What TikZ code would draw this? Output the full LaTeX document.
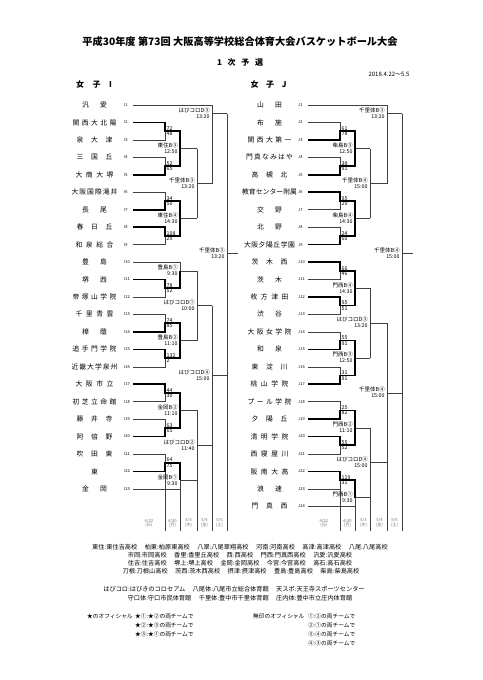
\documentclass[tikz,border=0pt]{standalone}
\usepackage{fontspec}
\setmainfont{Noto Sans CJK JP}
\usetikzlibrary{positioning}
\newcommand{\fsz}[1]{\fontsize{#1}{#1}\selectfont}
\newcommand{\spreadname}[2]{\makebox[#1pt]{\spaceskip=0pt plus 1fill\relax #2}}

\begin{document}
\begin{tikzpicture}[x=1pt,y=-1pt,
  thn/.style={line width=0.5pt,black!75},
  thk/.style={line width=1.6pt,black},
  nm/.style={font=\fsz{6.8},inner sep=0pt},
  sd/.style={font=\fsz{4},inner sep=0pt,anchor=west},
  sc/.style={font=\fsz{5.3},inner sep=0.5pt},
  vu/.style={font=\fsz{5.5},inner sep=0.5pt,anchor=south east},
  vt/.style={font=\fsz{5.3},inner sep=0.8pt,anchor=north east},
  dt/.style={font=\fsz{4.2},text=black!55,align=center,inner sep=0pt},
  ab/.style={font=\fsz{6.2},inner sep=0pt},
  of/.style={font=\fsz{5.7},inner sep=0pt,anchor=west}]
        \fill[white] (0,0) rectangle (482,680);
        \useasboundingbox (0,0) rectangle (482,680);
        %Title
        \node[font=\fsz{10.2}\bfseries] (title) at (240,42) {平成30年度 第73回 大阪高等学校総合体育大会バスケットボール大会};
        \node[font=\fsz{8}\bfseries] (yosen) at (240,62) {\spreadname{46}{1 次 予 選}};
        \node[font=\fsz{6}] (period) at (389,74) {2018.4.22～5.5};
        \node[font=\fsz{8}\bfseries] (headI) at (94,84) {\spreadname{36}{女 子 I}};
        \node[font=\fsz{8}\bfseries] (headJ) at (268.5,84) {\spreadname{36}{女 子 J}};
        \begin{scope}[shift={(0,105)},y=-8.725pt]
        %Teams I
        \foreach \k/\w/\tn in {1/25/汎 愛,2/44/関 西 大 北 陽,3/36/泉 大 津,4/36/三 国 丘,5/38/大 商 大 堺,6/46/大 阪 国 際 滝 井,7/25/長 尾,8/36/春 日 丘,9/38/和 泉 総 合,10/25/豊 島,11/25/堺 西,12/44/帝 塚 山 学 院,13/38/千 里 青 雲,14/25/樟 蔭,15/44/追 手 門 学 院,16/46/近 畿 大 学 泉 州,17/38/大 阪 市 立,18/44/初 芝 立 命 館,19/36/藤 井 寺,20/36/阿 倍 野,21/36/吹 田 東,22/1/東,23/25/金 岡}{
          \node[nm] (i\k) at (94.5,{2*(\k-1)}) {\spreadname{\w}{\tn}};
          \node[sd] (si\k) at (124,{2*(\k-1)}) {I\k};
          \coordinate (a\k) at (133,{2*(\k-1)});
        }
        %Teams J
        \foreach \k/\w/\tn in {1/25/山 田,2/25/布 施,3/44/関 西 大 第 一,4/47/門 真 な み は や,5/36/高 槻 北,6/55/教 育 セ ン タ ー 附 属,7/25/交 野,8/25/北 野,9/51/大 阪 夕 陽 丘 学 園,10/36/茨 木 西,11/25/茨 木,12/38/枚 方 津 田,13/25/渋 谷,14/44/大 阪 女 学 院,15/25/和 泉,16/36/東 淀 川,17/38/桃 山 学 院,18/44/プ ー ル 学 院,19/36/夕 陽 丘,20/38/清 明 学 院,21/38/西 寝 屋 川,22/38/阪 南 大 高,23/25/浪 速,24/36/門 真 西}{
          \node[nm] (j\k) at (269.5,{2*(\k-1)}) {\spreadname{\w}{\tn}};
          \node[sd] (sj\k) at (298,{2*(\k-1)}) {J\k};
          \coordinate (b\k) at (308,{2*(\k-1)});
        }
        %Lines I
        \draw[thn] (a1) -| (212,9);
        \draw[thn] (212,1) -- (227,1);
        \draw[thn] (a3) -| (165,3);
        \draw[thn] (a4) -| (165,7);
        \draw[thn] (180,5) -- (197,5);
        \draw[thn] (a6) -| (165,11);
        \draw[thn] (a9) -| (165,15);
        \draw[thn] (180,13) -- (197,13);
        \draw[thn] (197,5) -- (197,13);
        \draw[thn] (197,9) -- (212,9);
        \draw[thn] (a10) -| (180,19);
        \draw[thn] (a12) -| (165,21);
        \draw[thn] (180,19) -- (197,19);
        \draw[thn] (a13) -| (165,25);
        \draw[thn] (a16) -| (165,29);
        \draw[thn] (180,27) -- (197,27);
        \draw[thn] (197,19) -- (197,27);
        \draw[thn] (197,23) -- (212,23);
        \draw[thn] (a18) -| (165,33);
        \draw[thn] (a19) -| (165,37);
        \draw[thn] (180,35) -- (197,35);
        \draw[thn] (a21) -| (165,41);
        \draw[thn] (a23) -| (180,43);
        \draw[thn] (180,43) -- (197,43);
        \draw[thn] (197,35) -- (197,43);
        \draw[thn] (197,39) -- (212,39);
        \draw[thn] (212,23) -- (212,39);
        \draw[thn] (212,31) -- (227,31);
        \draw[thn] (227,1) -- (227,31);
        \draw[thn] (227,17) -- (238,17);
        \draw[thn] (165,42) -- (165,48.8);
        \draw[thn] (180,44) -- (180,48.8);
        \draw[thn] (197,43) -- (197,48.8);
        \draw[thn] (212,39) -- (212,48.8);
        \draw[thn] (227,31) -- (227,48.8);
        \draw[thk] (a2) -| (165,3) -- (180,3) -- (180,5);
        \draw[thk] (a5) -| (165,7) -- (180,7) -- (180,5);
        \draw[thk] (a7) -| (165,11) -- (180,11) -- (180,13);
        \draw[thk] (a8) -| (165,15) -- (180,15) -- (180,13);
        \draw[thk] (a11) -| (165,21) -- (180,21) -- (180,19);
        \draw[thk] (a14) -| (165,25) -- (180,25) -- (180,27);
        \draw[thk] (a15) -| (165,29) -- (180,29) -- (180,27);
        \draw[thk] (a17) -| (165,33) -- (180,33) -- (180,35);
        \draw[thk] (a20) -| (165,37) -- (180,37) -- (180,35);
        \draw[thk] (a22) -| (165,41) -- (180,41) -- (180,43);
        %Lines J
        \draw[thn] (b1) -| (387,9);
        \draw[thn] (387,1) -- (402,1);
        \draw[thn] (b2) -| (340,3);
        \draw[thn] (b4) -| (340,7);
        \draw[thn] (355,5) -- (370,5);
        \draw[thn] (b7) -| (340,11);
        \draw[thn] (b8) -| (340,15);
        \draw[thn] (355,13) -- (370,13);
        \draw[thn] (370,5) -- (370,13);
        \draw[thn] (370,9) -- (387,9);
        \draw[thn] (b11) -| (340,19);
        \draw[thn] (b13) -| (340,23);
        \draw[thn] (355,21) -- (370,21);
        \draw[thn] (b14) -| (340,27);
        \draw[thn] (b16) -| (340,31);
        \draw[thn] (355,29) -- (370,29);
        \draw[thn] (370,21) -- (370,29);
        \draw[thn] (370,25) -- (387,25);
        \draw[thn] (b18) -| (340,35);
        \draw[thn] (b21) -| (340,39);
        \draw[thn] (355,37) -- (370,37);
        \draw[thn] (b23) -| (340,43);
        \draw[thn] (b24) -| (355,45);
        \draw[thn] (355,45) -- (370,45);
        \draw[thn] (370,37) -- (370,45);
        \draw[thn] (370,41) -- (387,41);
        \draw[thn] (387,25) -- (387,41);
        \draw[thn] (387,33) -- (402,33);
        \draw[thn] (402,1) -- (402,33);
        \draw[thn] (402,17) -- (413,17);
        \draw[thn] (340,44) -- (340,48.8);
        \draw[thn] (355,46) -- (355,48.8);
        \draw[thn] (370,45) -- (370,48.8);
        \draw[thn] (387,41) -- (387,48.8);
        \draw[thn] (402,33) -- (402,48.8);
        \draw[thk] (b3) -| (340,3) -- (355,3) -- (355,5);
        \draw[thk] (b5) -| (340,7) -- (355,7) -- (355,5);
        \draw[thk] (b6) -| (340,11) -- (355,11) -- (355,13);
        \draw[thk] (b9) -| (340,15) -- (355,15) -- (355,13);
        \draw[thk] (b10) -| (340,19) -- (355,19) -- (355,21);
        \draw[thk] (b12) -| (340,23) -- (355,23) -- (355,21);
        \draw[thk] (b15) -| (340,27) -- (355,27) -- (355,29);
        \draw[thk] (b17) -| (340,31) -- (355,31) -- (355,29);
        \draw[thk] (b19) -| (340,35) -- (355,35) -- (355,37);
        \draw[thk] (b20) -| (340,39) -- (355,39) -- (355,37);
        \draw[thk] (b22) -| (340,43) -- (355,43) -- (355,45);
        %Scores
        \foreach \o/\p/\q [count=\n] in {3/72/48,7/52/65,11/34/50,15/108/29,21/78/52,25/74/85,29/132/2,33/44/30,37/63/65,41/64/75}{
          \node[sc,anchor=south west] (pi\n) at (166,\o) {\p};
          \node[sc,anchor=north west] (qi\n) at (166,\o) {\q};
        }
        \foreach \o/\p/\q [count=\n] in {3/61/78,7/38/91,11/95/29,15/24/60,19/66/46,23/95/51,27/55/91,31/31/91,35/25/82,39/55/52,43/119/31}{
          \node[sc,anchor=south west] (pj\n) at (341,\o) {\p};
          \node[sc,anchor=north west] (qj\n) at (341,\o) {\q};
        }
        %Venues
        \foreach \x/\o/\vn/\tm [count=\n] in {212/1/はびコロD③/13:20,180/5/東住B③/12:50,197/9/千里体B③/13:20,180/13/東住B④/14:30,227/17/千里体B③/13:20,180/19/豊島B①/9:30,197/23/はびコロD①/10:00,180/27/豊島B②/11:10,212/31/はびコロD④/15:00,180/35/金岡B②/11:10,197/39/はびコロD②/11:40,180/43/金岡B①/9:30,387/1/千里体B③/13:20,355/5/柴島B③/12:50,370/9/千里体B④/15:00,355/13/柴島B④/14:30,402/17/千里体B④/15:00,355/21/門西B④/14:30,370/25/はびコロD③/13:20,355/29/門西B③/12:50,387/33/千里体B④/15:00,355/37/門西B②/11:10,370/41/はびコロD④/15:00,355/45/門西B①/9:30}{
          \node[vu] (vn\n) at (\x-1.5,\o) {\vn};
          \node[vt] (tm\n) at (\x-1.5,\o) {\tm};
        }
        \end{scope}
        %Dates
        \foreach \x/\mo/\dy/\wk [count=\n] in {149/4/22/日,172.5/4/30/月,188.5/5/3/木,204.5/5/4/金,219.5/5/5/土,324/4/22/日,347.5/4/30/月,363.5/5/3/木,379.5/5/4/金,394.5/5/5/土}{
          \node[dt] (dt\n) at (\x,523) {\mo/\dy\\(\wk)};
        }
        %Abbreviations
        \node[ab] (ab1) at (240,547) {東住:東住吉高校\hspace{1.2em}柏東:柏原東高校\hspace{1.2em}八翠:八尾翠翔高校\hspace{1.2em}河南:河南高校\hspace{1.2em}高津:高津高校\hspace{1.2em}八尾:八尾高校};
        \node[ab] (ab2) at (240,555) {市岡:市岡高校\hspace{1.2em}香里:香里丘高校\hspace{1.2em}西:西高校\hspace{1.2em}門西:門真西高校\hspace{1.2em}汎愛:汎愛高校};
        \node[ab] (ab3) at (240,563) {住吉:住吉高校\hspace{1.2em}堺上:堺上高校\hspace{1.2em}金岡:金岡高校\hspace{1.2em}今宮:今宮高校\hspace{1.2em}高石:高石高校};
        \node[ab] (ab4) at (241,571) {刀根:刀根山高校\hspace{1.2em}茨西:茨木西高校\hspace{1.2em}摂津:摂津高校\hspace{1.2em}豊島:豊島高校\hspace{1.2em}柴島:柴島高校};
        \node[ab] (ab5) at (234,589) {はびコロ:はびきのコロセアム\hspace{1.2em}八尾体:八尾市立総合体育館\hspace{1.2em}天スポ:天王寺スポーツセンター};
        \node[ab] (ab6) at (240,598) {守口体:守口市民体育館\hspace{1.2em}千里体:豊中市千里体育館\hspace{1.2em}庄内体:豊中市立庄内体育館};
        %Officials
        \node[of] (off1) at (87,616) {★のオフィシャル};
        \node[of] (off2) at (135,616) {★①:★②の両チームで};
        \node[of] (off3) at (135,625) {★②:★③の両チームで};
        \node[of] (off4) at (135,634) {★③:★①の両チームで};
        \node[of] (off5) at (253,616) {無印のオフィシャル};
        \node[of] (off6) at (308,616) {①:②の両チームで};
        \node[of] (off7) at (308,625) {②:①の両チームで};
        \node[of] (off8) at (308,634) {③:④の両チームで};
        \node[of] (off9) at (308,643) {④:③の両チームで};
      \end{tikzpicture}
\end{document}
